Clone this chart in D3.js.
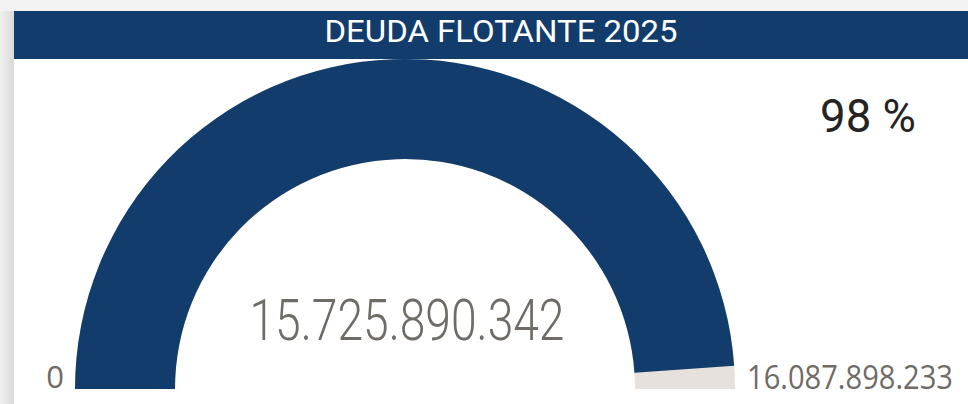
<!DOCTYPE html>
<html>
  <head>
    <meta charset="utf-8" />
    <script src="https://cdn.jsdelivr.net/npm/d3@7"></script>
    <style>
      html, body { margin: 0; padding: 0; background: #f3f3f3; }
      #master { width: 968px; height: 404px; }
    </style>
  </head>
  <body>
    <div id="master"></div>

    <script type="text/javascript">
// values
var title = ["DEUDA FLOTANTE 2025"];
var gaugeMin = [0];
var gaugeMax = [16087898233];
var gaugeValue = [15725890342];

var width = 968, height = 404;
var fmt = d3.formatLocale({decimal: ",", thousands: ".", grouping: [3], currency: ["", ""]}).format(",.0f");

var svg = d3.select("#master").append("svg")
  .attr("width", width)
  .attr("height", height);

// left shadow of the card
var defs = svg.append("defs");
var grad = defs.append("linearGradient").attr("id", "shadow");
grad.append("stop").attr("offset", "0%").attr("stop-color", "#f1f1f1");
grad.append("stop").attr("offset", "100%").attr("stop-color", "#d9d9d9");
svg.append("rect").attr("x", 0).attr("y", 11).attr("width", 14).attr("height", height - 11)
  .attr("fill", "url(#shadow)");

// card
svg.append("rect").attr("x", 14).attr("y", 11).attr("width", width - 14).attr("height", height - 11)
  .attr("fill", "#ffffff");

// title bar
svg.append("rect").attr("x", 14).attr("y", 11).attr("width", width - 14).attr("height", 48)
  .attr("fill", "#113c6b");
svg.append("text")
  .attr("x", 501).attr("y", 42)
  .attr("text-anchor", "middle")
  .attr("fill", "#ffffff")
  .style("font-family", "Roboto")
  .style("font-size", "31px")
  .attr("textLength", 353)
  .attr("lengthAdjust", "spacingAndGlyphs")
  .text(title[0]);

// gauge
var cx = 405, cy = 389, rOuter = 330, rInner = 230;
var angle = d3.scaleLinear().domain([gaugeMin[0], gaugeMax[0]]).range([-Math.PI / 2, Math.PI / 2]);
var arc = d3.arc().innerRadius(rInner).outerRadius(rOuter);
var g = svg.append("g").attr("transform", "translate(" + cx + "," + cy + ")");

g.append("path")
  .attr("d", arc({startAngle: angle(gaugeMin[0]), endAngle: angle(gaugeMax[0])}))
  .attr("fill", "#e6e1dc");
g.append("path")
  .attr("d", arc({startAngle: angle(gaugeMin[0]), endAngle: angle(gaugeValue[0])}))
  .attr("fill", "#113c6b");

// centre value
svg.append("text")
  .attr("x", 407).attr("y", 340)
  .attr("text-anchor", "middle")
  .attr("fill", "#6f6b67")
  .style("font-family", "Roboto")
  .style("font-weight", 300)
  .style("font-size", "58px")
  .attr("textLength", 315)
  .attr("lengthAdjust", "spacingAndGlyphs")
  .text(fmt(gaugeValue[0]));

// min / max labels
svg.append("text")
  .attr("x", 64).attr("y", 388)
  .attr("text-anchor", "end")
  .attr("fill", "#6f6b67")
  .style("font-family", "Open Sans")
  .style("font-size", "31px")
  .text(fmt(gaugeMin[0]));
svg.append("text")
  .attr("x", 747).attr("y", 389)
  .attr("fill", "#6f6b67")
  .style("font-family", "Open Sans")
  .style("font-size", "32px")
  .attr("textLength", 206)
  .attr("lengthAdjust", "spacingAndGlyphs")
  .text(fmt(gaugeMax[0]));

// percentage
svg.append("text")
  .attr("x", 868).attr("y", 132)
  .attr("text-anchor", "middle")
  .attr("fill", "#252423")
  .style("font-family", "Roboto")
  .style("font-weight", 400)
  .style("font-size", "47px")
  .attr("textLength", 96)
  .attr("lengthAdjust", "spacingAndGlyphs")
  .text(Math.round(gaugeValue[0] / gaugeMax[0] * 100) + " %");
    </script>
  </body>
</html>
